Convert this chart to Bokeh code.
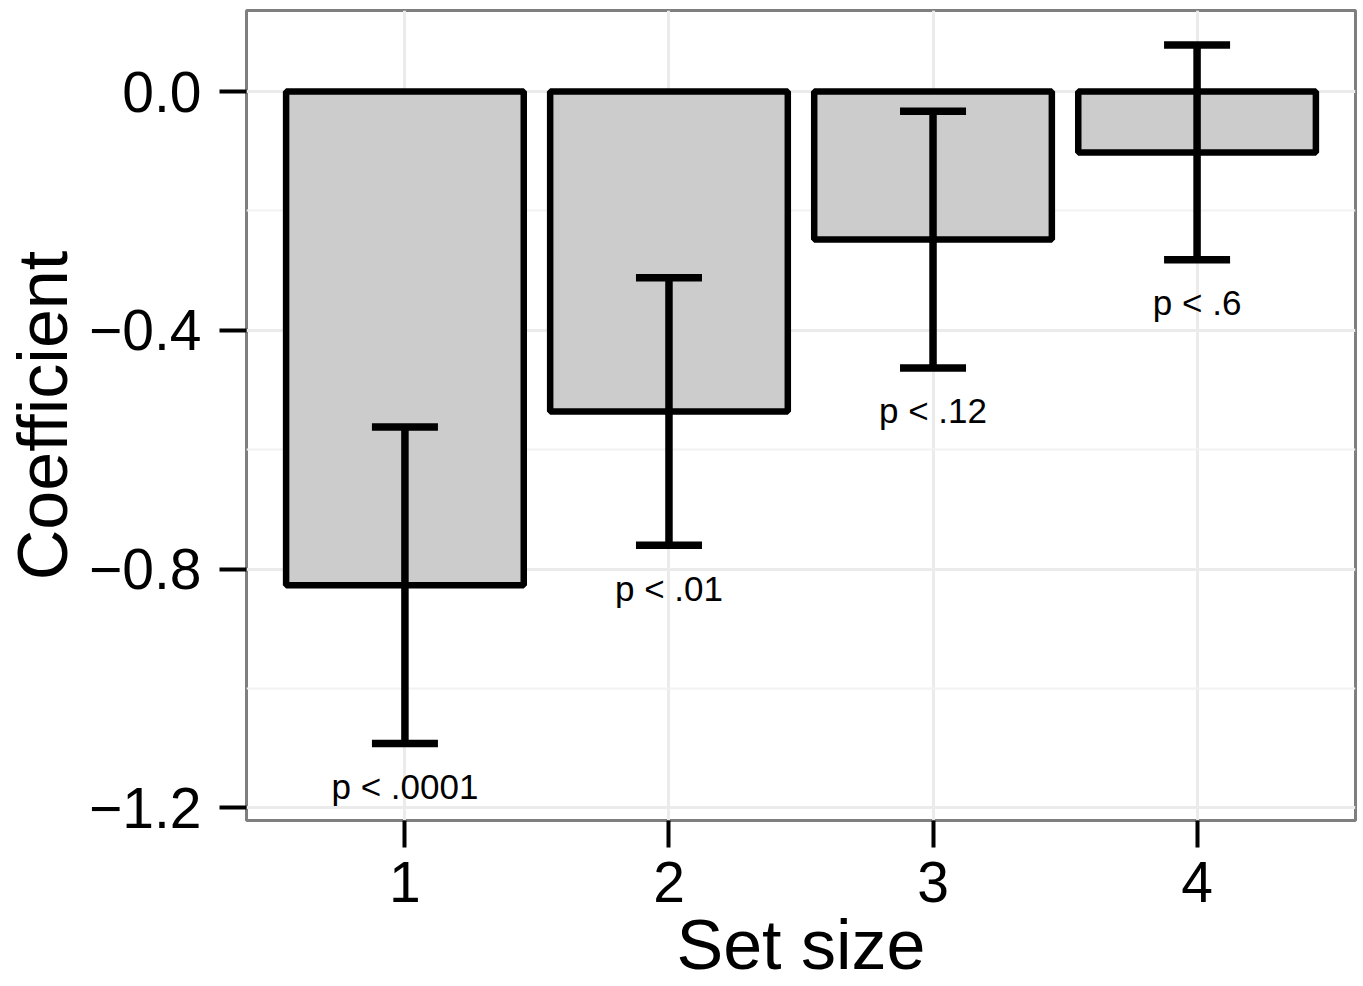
from bokeh.plotting import figure
from bokeh.models import Range1d, FixedTicker, CustomJSTickFormatter, ColumnDataSource
from bokeh.core.properties import value
from bokeh.embed import file_html
from bokeh.resources import INLINE

# ---- data ----
set_size = [1, 2, 3, 4]
coefficient = [-0.827, -0.536, -0.248, -0.102]
ci_half = [0.265, 0.224, 0.215, 0.180]
p_labels = ["p < .0001", "p < .01", "p < .12", "p < .6"]
y_ticks = [-1.2, -0.8, -0.4, 0.0]
y_minor = [-1.0, -0.6, -0.2]

# ---- style constants ----
BAR_WIDTH = 0.9
CAP_WIDTH = 0.25
LABEL_GAP = 0.072
FONT = "Liberation Sans"

lower = [c - h for c, h in zip(coefficient, ci_half)]
upper = [c + h for c, h in zip(coefficient, ci_half)]
src = ColumnDataSource(dict(
    x=set_size,
    coef=coefficient,
    lower=lower,
    upper=upper,
    cap_l=[x - CAP_WIDTH / 2 for x in set_size],
    cap_r=[x + CAP_WIDTH / 2 for x in set_size],
    label_y=[l - LABEL_GAP for l in lower],
    label=p_labels,
))

p = figure(width=1363, height=986,
           x_range=Range1d(0.4, 4.6), y_range=Range1d(-1.2211, 0.1357),
           output_backend="svg", toolbar_location=None,
           min_border_left=244, min_border_right=8,
           min_border_top=10, min_border_bottom=166)

p.background_fill_color = "white"
p.border_fill_color = "white"
p.outline_line_color = "#7F7F7F"
p.outline_line_width = 3

p.xaxis.ticker = FixedTicker(ticks=set_size)
p.yaxis.ticker = FixedTicker(ticks=y_ticks, minor_ticks=y_minor)
p.yaxis.formatter = CustomJSTickFormatter(
    code='return (tick < -1e-9 ? "\\u2212" : "") + Math.abs(tick).toFixed(1);')

for g in (p.xgrid, p.ygrid):
    g.grid_line_color = "#EBEBEB"
    g.grid_line_width = 3
p.ygrid.minor_grid_line_color = "#F2F2F2"
p.ygrid.minor_grid_line_width = 2

for ax in (p.xaxis, p.yaxis):
    ax.axis_line_color = None
    ax.major_tick_out = 27
    ax.major_tick_in = 0
    ax.major_tick_line_width = 4
    ax.major_tick_line_color = "black"
    ax.minor_tick_line_color = None
    ax.major_label_text_font = FONT
    ax.major_label_text_font_size = "57px"
    ax.major_label_text_color = "black"
    ax.axis_label_text_font = FONT
    ax.axis_label_text_font_size = "70px"
    ax.axis_label_text_font_style = "normal"
    ax.axis_label_text_color = "black"

p.xaxis.axis_label = "Set size"
p.yaxis.axis_label = "Coefficient"
p.xaxis.major_label_standoff = 14
p.yaxis.major_label_standoff = 18
p.xaxis.axis_label_standoff = 1
p.yaxis.axis_label_standoff = 4

p.vbar(x="x", top="coef", bottom=0, width=BAR_WIDTH, source=src,
       fill_color="#CCCCCC", line_color="black", line_width=6.5)

p.segment(x0="x", y0="lower", x1="x", y1="upper", source=src,
          line_color="black", line_width=7.5)
p.segment(x0="cap_l", y0="lower", x1="cap_r", y1="lower", source=src,
          line_color="black", line_width=7.5)
p.segment(x0="cap_l", y0="upper", x1="cap_r", y1="upper", source=src,
          line_color="black", line_width=7.5)

p.text(x="x", y="label_y", text="label", source=src,
       text_align="center", text_baseline="alphabetic",
       text_font=value(FONT), text_font_size="35px", text_color="black")

open("out.html", "w").write(file_html(p, INLINE))
